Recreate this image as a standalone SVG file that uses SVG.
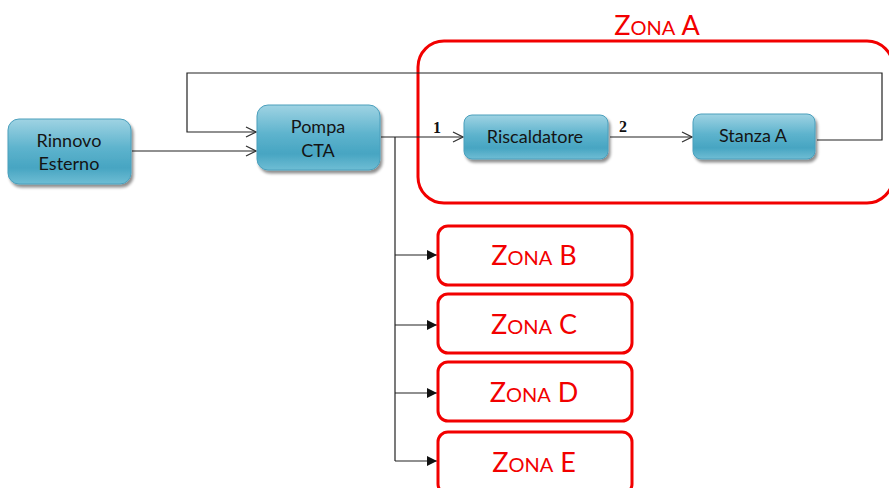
<svg xmlns="http://www.w3.org/2000/svg" width="889" height="488" viewBox="0 0 889 488">
  <defs>
    <linearGradient id="nodeFill" x1="0" y1="0" x2="0" y2="1">
      <stop offset="0" stop-color="#9fd3e3"/>
      <stop offset="0.45" stop-color="#5db3cd"/>
      <stop offset="0.75" stop-color="#47a5c2"/>
      <stop offset="1" stop-color="#6fbdd4"/>
    </linearGradient>
    <filter id="shadow" x="-20%" y="-20%" width="140%" height="150%">
      <feGaussianBlur in="SourceAlpha" stdDeviation="1.5"/>
      <feOffset dx="1.5" dy="2.5" result="b"/>
      <feComponentTransfer><feFuncA type="linear" slope="0.45"/></feComponentTransfer>
      <feMerge><feMergeNode/><feMergeNode in="SourceGraphic"/></feMerge>
    </filter>
    <marker id="open" viewBox="0 0 12 12" refX="11" refY="6" markerWidth="12" markerHeight="12" markerUnits="userSpaceOnUse" orient="auto">
      <path d="M1,1 L11,6 L1,11" fill="none" stroke="#333" stroke-width="1.3"/>
    </marker>
    <marker id="solid" viewBox="0 0 10 10" refX="10" refY="5" markerWidth="10" markerHeight="10" markerUnits="userSpaceOnUse" orient="auto">
      <path d="M0,0 L10,5 L0,10 Z" fill="#111"/>
    </marker>
  </defs>
  <style>
    .node rect { fill: url(#nodeFill); stroke: #4a9fbc; stroke-width: 1; filter: url(#shadow); }
    .node text { font-family: "Lato", "Liberation Sans", sans-serif; font-size: 18px; fill: #141414; text-anchor: middle; }
    .zone rect { fill: #fff; stroke: #f20000; stroke-width: 3; }
    .zone text { font-family: "Lato", "Liberation Sans", sans-serif; fill: #f20000; text-anchor: middle; }
    .cap { font-size: 27px; }
    .sc { font-size: 20px; }
    .wire { fill: none; stroke: #222; stroke-width: 1.2; }
    .num { font-family: "Liberation Serif", serif; font-weight: bold; font-size: 16px; fill: #111; }
  </style>

  <!-- zone A frame -->
  <g id="zonaA" class="zone">
    <rect x="418" y="41" width="475" height="162" rx="26" ry="26"/>
    <text x="657" y="35"><tspan class="cap" font-size="29">Z</tspan><tspan class="sc" font-size="21">ONA</tspan><tspan class="cap" font-size="29"> A</tspan></text>
  </g>

  <!-- connectors -->
  <g id="connectors">
    <path class="wire" d="M132,151 H256" marker-end="url(#open)"/>
    <path class="wire" d="M817,140 H882 V73 H187 V132 H256" marker-end="url(#open)"/>
    <path class="wire" d="M381,137 H463" marker-end="url(#open)"/>
    <path class="wire" d="M610,137 H692" marker-end="url(#open)"/>
    <path class="wire" d="M395,137 V461"/>
    <path class="wire" d="M395,255 H437" marker-end="url(#solid)"/>
    <path class="wire" d="M395,325 H437" marker-end="url(#solid)"/>
    <path class="wire" d="M395,393 H437" marker-end="url(#solid)"/>
    <path class="wire" d="M395,461 H437" marker-end="url(#solid)"/>
    <text class="num" x="433" y="133">1</text>
    <text class="num" x="619" y="132">2</text>
  </g>

  <g id="rinnovo" class="node">
    <rect x="8" y="119" width="123" height="65" rx="11" ry="11"/>
    <text x="69" y="147">Rinnovo</text>
    <text x="69" y="170">Esterno</text>
  </g>

  <g id="pompa" class="node">
    <rect x="257" y="105" width="123" height="65" rx="11" ry="11"/>
    <text x="318" y="133">Pompa</text>
    <text x="318" y="157">CTA</text>
  </g>

  <g id="riscaldatore" class="node">
    <rect x="464" y="115" width="144" height="44" rx="8" ry="8"/>
    <text x="535" y="143">Riscaldatore</text>
  </g>

  <g id="stanzaA" class="node">
    <rect x="693" y="114" width="122" height="45" rx="8" ry="8"/>
    <text x="753" y="142">Stanza A</text>
  </g>

  <g id="zonaB" class="zone">
    <rect x="438" y="226" width="194" height="59" rx="10" ry="10"/>
    <text x="534" y="265"><tspan class="cap">Z</tspan><tspan class="sc">ONA</tspan><tspan class="cap"> B</tspan></text>
  </g>
  <g id="zonaC" class="zone">
    <rect x="438" y="294" width="194" height="59" rx="10" ry="10"/>
    <text x="534" y="334"><tspan class="cap">Z</tspan><tspan class="sc">ONA</tspan><tspan class="cap"> C</tspan></text>
  </g>
  <g id="zonaD" class="zone">
    <rect x="438" y="362" width="194" height="59" rx="10" ry="10"/>
    <text x="534" y="402"><tspan class="cap">Z</tspan><tspan class="sc">ONA</tspan><tspan class="cap"> D</tspan></text>
  </g>
  <g id="zonaE" class="zone">
    <rect x="438" y="432" width="194" height="62" rx="10" ry="10"/>
    <text x="534" y="472"><tspan class="cap">Z</tspan><tspan class="sc">ONA</tspan><tspan class="cap"> E</tspan></text>
  </g>
</svg>
